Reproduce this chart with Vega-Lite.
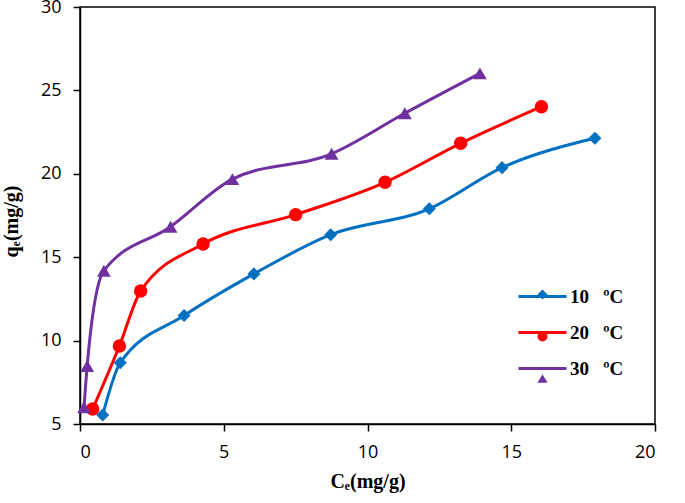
{
  "$schema": "https://vega.github.io/schema/vega-lite/v6.json",
  "width": 575,
  "height": 417,
  "autosize": {"type": "none"},
  "padding": {"left": 80, "top": 7, "right": 30, "bottom": 79},
  "background": "white",
  "config": {
    "view": {"stroke": "black", "strokeWidth": 1.5},
    "axis": {
      "grid": false,
      "domainColor": "black",
      "domainWidth": 1.5,
      "tickColor": "black",
      "tickWidth": 1.5,
      "tickSize": 7,
      "labelFont": "Open Sans",
      "labelFontSize": 18,
      "labelColor": "black",
      "titleFont": "Liberation Serif",
      "titleFontWeight": "bold",
      "titleFontSize": 20,
      "titleColor": "black"
    },
    "legend": {
      "orient": "none",
      "padding": 0,
      "title": null,
      "labelFont": "Liberation Serif",
      "labelFontWeight": "bold",
      "labelFontSize": 19,
      "labelColor": "black",
      "labelLimit": 200
    }
  },
  "data": {
    "values": [
      {"series": "10 ºC", "Ce": 0.79, "qe": 5.54},
      {"series": "10 ºC", "Ce": 1.40, "qe": 8.67},
      {"series": "10 ºC", "Ce": 3.62, "qe": 11.50},
      {"series": "10 ºC", "Ce": 6.05, "qe": 14.00},
      {"series": "10 ºC", "Ce": 8.72, "qe": 16.35},
      {"series": "10 ºC", "Ce": 12.15, "qe": 17.90},
      {"series": "10 ºC", "Ce": 14.68, "qe": 20.37},
      {"series": "10 ºC", "Ce": 17.91, "qe": 22.13},
      {"series": "20 ºC", "Ce": 0.44, "qe": 5.90},
      {"series": "20 ºC", "Ce": 1.37, "qe": 9.68},
      {"series": "20 ºC", "Ce": 2.11, "qe": 12.97},
      {"series": "20 ºC", "Ce": 4.28, "qe": 15.79},
      {"series": "20 ºC", "Ce": 7.50, "qe": 17.55},
      {"series": "20 ºC", "Ce": 10.61, "qe": 19.49},
      {"series": "20 ºC", "Ce": 13.24, "qe": 21.83},
      {"series": "20 ºC", "Ce": 16.05, "qe": 24.02},
      {"series": "30 ºC", "Ce": 0.14, "qe": 6.00},
      {"series": "30 ºC", "Ce": 0.25, "qe": 8.48},
      {"series": "30 ºC", "Ce": 0.83, "qe": 14.19},
      {"series": "30 ºC", "Ce": 3.15, "qe": 16.83},
      {"series": "30 ºC", "Ce": 5.30, "qe": 19.68},
      {"series": "30 ºC", "Ce": 8.75, "qe": 21.20},
      {"series": "30 ºC", "Ce": 11.30, "qe": 23.63},
      {"series": "30 ºC", "Ce": 13.91, "qe": 26.02}
    ]
  },
  "encoding": {
    "x": {
      "field": "Ce",
      "type": "quantitative",
      "scale": {"domain": [0, 20], "nice": false, "zero": false},
      "axis": {
        "values": [0, 5, 10, 15, 20],
        "title": "Cₑ(mg/g)",
        "labelPadding": 12,
        "titleBaseline": "alphabetic",
        "titleY": 63
      }
    },
    "y": {
      "field": "qe",
      "type": "quantitative",
      "scale": {"domain": [5, 30], "nice": false, "zero": false},
      "axis": {
        "values": [5, 10, 15, 20, 25, 30],
        "title": "qₑ(mg/g)",
        "labelPadding": 12,
        "titleX": -59,
        "titleY": 214
      }
    }
  },
  "resolve": {"legend": {"color": "independent", "shape": "independent"}},
  "layer": [
    {
      "mark": {"type": "line", "interpolate": "monotone", "strokeWidth": 3},
      "encoding": {
        "color": {
          "field": "series",
          "type": "nominal",
          "scale": {"domain": ["10 ºC", "20 ºC", "30 ºC"], "range": ["#0070C0", "#FF0000", "#7030A0"]},
          "legend": {
            "orient": "none",
            "legendX": 437,
            "legendY": 264,
            "symbolType": "stroke",
            "symbolSize": 2304,
            "symbolStrokeWidth": 3,
            "rowPadding": -3,
            "labelOffset": 2,
            "labelExpr": "replace(datum.label, ' ', '\u00a0\u00a0\u00a0')"
          }
        }
      }
    },
    {
      "mark": {"type": "point", "filled": true, "opacity": 1},
      "encoding": {
        "color": {
          "field": "series",
          "type": "nominal",
          "scale": {"domain": ["10 ºC", "20 ºC", "30 ºC"], "range": ["#0070C0", "#FF0000", "#7030A0"]},
          "legend": {
            "orient": "none",
            "legendX": 453,
            "legendY": 278,
            "rowPadding": 22,
            "labelOffset": 17,
            "labelExpr": "''"
          }
        },
        "shape": {
          "field": "series",
          "type": "nominal",
          "scale": {"domain": ["10 ºC", "20 ºC", "30 ºC"], "range": ["diamond", "circle", "triangle-up"]},
          "legend": {
            "orient": "none",
            "legendX": 453,
            "legendY": 278,
            "rowPadding": 22,
            "labelOffset": 17,
            "labelExpr": "''"
          }
        },
        "size": {
          "field": "series",
          "type": "nominal",
          "scale": {"domain": ["10 ºC", "20 ºC", "30 ºC"], "range": [170, 190, 230]},
          "legend": null
        }
      }
    }
  ]
}
